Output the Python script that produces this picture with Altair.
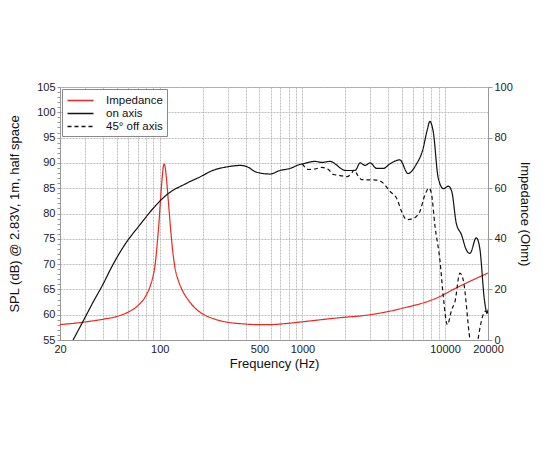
import altair as alt
import pandas as pd

# ---- data ----
imp_freq = [20, 25, 31.5, 40, 50, 60, 70, 80, 86, 90, 93, 96, 99, 102, 104, 106,
            107.6, 109, 111, 113, 116, 120, 124, 128, 135, 143, 160, 177, 200,
            245, 300, 380, 470, 600, 800, 1000, 1740, 3000, 5080, 8740, 12000, 20000]
imp_ohm = [6.1, 6.6, 7.3, 8.2, 9.3, 11.0, 13.5, 17.5, 21.5, 25.5, 30, 38, 47, 58, 64, 68.5,
           69.5, 68.5, 65, 60, 52, 42, 34, 28.5, 23.5, 20.0, 15.5, 12.6, 10.3,
           8.2, 7.0, 6.4, 6.1, 6.1, 6.6, 7.2, 8.7, 10.0, 12.6, 16.6, 20.6, 26.5]

on_freq = [24.7, 28.4, 34.3, 40, 46, 57.1, 72.8, 90.5, 112, 155, 196.8, 226, 310, 366,
           420, 464, 504, 592, 696, 818, 962, 1000, 1224, 1368, 1566, 1700, 1840, 2000,
           2340, 2540, 2750, 2980, 3320, 3690, 4100, 4820, 5500, 6280, 6980, 7500, 7820,
           8260, 8960, 9740, 10540, 11130, 12000, 13040, 14000, 14940, 16560, 17500,
           18940, 19700, 20000]
on_db = [55.0, 58.2, 62.6, 66.0, 69.4, 73.9, 77.8, 81.1, 83.7, 86.0, 87.4, 88.3, 89.3, 89.5,
         89.1, 88.3, 88.0, 87.8, 88.5, 88.9, 89.7, 89.8, 90.3, 90.1, 90.3, 89.8, 89.0, 88.5,
         88.5, 90.0, 89.5, 90.0, 88.9, 88.9, 89.8, 90.6, 87.9, 89.7, 92.6, 96.5, 98.2,
         96.2, 87.0, 84.9, 85.4, 84.4, 78.0, 75.8, 73.0, 72.1, 75.2, 73.2,
         62.6, 60.3, 61.0]

off_freq = [1000, 1100, 1224, 1368, 1522, 1652, 1840, 2050, 2220, 2300, 2450, 2600,
            3320, 3690, 4100, 4580, 4960, 5370, 5960, 6660, 7170, 7720, 8020, 8500,
            9220, 9740, 10380, 11130, 11740, 12700, 13400, 14940, 15600, 16400, 17000,
            17950, 19200, 20000]
off_db = [89.8, 88.7, 88.8, 89.1, 88.7, 87.7, 87.5, 87.3, 88.0, 88.6, 87.5, 86.7,
          86.6, 86.0, 84.4, 83.0, 80.4, 78.8, 79.0, 80.4, 83.4, 85.0, 84.0, 77.5,
          70.6, 63.3, 58.0, 61.0, 62.6, 68.2, 66.9, 55.1, 52.0, 52.0, 55.0,
          58.7, 60.7, 59.7]

series_names = ["Impedance", "on axis", "45° off axis"]
series_colors = ["#e8281e", "#111111", "#111111"]
series_dash = [[1, 0], [1, 0], [4, 3]]

x_grid = [20, 30, 40, 50, 60, 70, 80, 90, 100, 200, 300, 400, 500, 600, 700, 800, 900,
          1000, 2000, 3000, 4000, 5000, 6000, 7000, 8000, 9000, 10000, 20000]
x_labels = [20, 100, 500, 1000, 10000, 20000]
spl_ticks = list(range(55, 106))
imp_ticks = [0, 20, 40, 60, 80, 100]

# ---- tables ----
imp_df = pd.DataFrame({"freq": imp_freq, "ohm": imp_ohm, "series": "Impedance"})
spl_df = pd.concat([
    pd.DataFrame({"freq": on_freq, "db": on_db, "series": "on axis"}),
    pd.DataFrame({"freq": off_freq, "db": off_db, "series": "45° off axis"}),
])

grid_color = "#bdbdbd"
frame_color = "#999999"

x_enc = alt.X(
    "freq:Q",
    scale=alt.Scale(type="log", domain=[20, 20000], nice=False),
    axis=alt.Axis(
        title="Frequency (Hz)", values=x_grid,
        labelExpr="indexof([" + ",".join(str(v) for v in x_labels) + "], datum.value) >= 0 ? '' + datum.value : ''",
        labelOverlap=False, labelFlush=False, tickSize=0, labelPadding=3,
        grid=True, gridColor=grid_color, gridDash=[2, 1], titlePadding=3,
    ),
)

legend = alt.Legend(
    title="\u00a0" * 8, titleOrient="right", titleFontSize=11, titlePadding=0,
)
color_enc = alt.Color(
    "series:N",
    scale=alt.Scale(domain=series_names, range=series_colors),
    legend=legend,
)
dash_enc = alt.StrokeDash(
    "series:N",
    scale=alt.Scale(domain=series_names, range=series_dash),
    legend=legend,
)

imp_layer = alt.Chart(imp_df).mark_line(strokeWidth=1.2, interpolate="monotone", clip=True).encode(
    x=x_enc,
    y=alt.Y("ohm:Q", scale=alt.Scale(domain=[0, 100], nice=False),
            axis=alt.Axis(orient="right", title="Impedance (Ohm)", values=imp_ticks,
                          grid=False, tickSize=4, labelPadding=2, titlePadding=5)),
    color=color_enc,
    strokeDash=dash_enc,
)

spl_layer = alt.Chart(spl_df).mark_line(strokeWidth=1.2, interpolate="monotone", clip=True).encode(
    x=x_enc,
    y=alt.Y("db:Q", scale=alt.Scale(domain=[55, 105], nice=False),
            axis=alt.Axis(
                orient="left", title="SPL (dB) @ 2.83V, 1m, half space", values=spl_ticks,
                labelExpr="datum.value % 5 === 0 ? '' + datum.value : ''",
                labelOverlap=False, labelFlush=False, tickSize=3, labelPadding=2,
                grid=True, gridColor=grid_color, gridDash=[2, 1],
                gridOpacity={"condition": {"test": "datum.value % 5 === 0", "value": 1}, "value": 0},
                titlePadding=15,
            )),
    color=color_enc,
    strokeDash=dash_enc,
)

chart = alt.layer(imp_layer, spl_layer).resolve_scale(y="independent").properties(
    width=428, height=253,
    padding={"left": 0, "top": 73, "right": 5, "bottom": 5},
).configure(
    font="Liberation Sans",
).configure_view(
    stroke=frame_color, strokeWidth=1,
).configure_axis(
    labelFontSize=11, labelColor="#222", titleFontSize=13, titleFontWeight="normal",
    titleColor="#111", domainColor=frame_color, tickColor=frame_color,
).configure_legend(
    orient="top-left", offset=2, padding=4, fillColor="white", strokeColor="#888",
    symbolType="M-2,0H2", symbolSize=169, symbolStrokeWidth=1.3, symbolOffset=7,
    labelFontSize=11.5, labelColor="#111", rowPadding=0, labelOffset=18,
)

chart.save("out.html", embed_options={"renderer": "svg", "actions": False})
